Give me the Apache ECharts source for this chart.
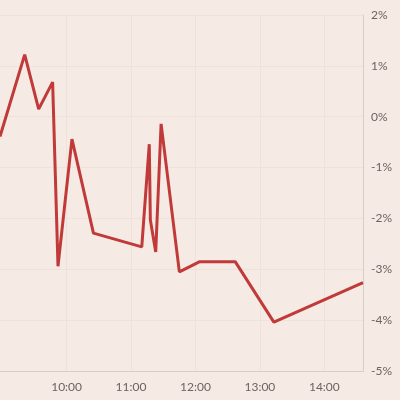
<!DOCTYPE html>
<html>
<head>
<meta charset="utf-8">
<style>
html,body{margin:0;padding:0;background:#f6eae4;}
#c{width:400px;height:400px;}
</style>
<script src="https://cdn.jsdelivr.net/npm/echarts@6/dist/echarts.min.js"></script>
</head>
<body>
<div id="c"></div>
<script>
var times = ["8:58","9:21","9:34","9:47","9:52","10:05","10:25","11:10","11:17","11:18","11:23","11:28","11:45","12:04","12:37","13:13","14:36"];
var values = [-0.39,1.22,0.15,0.68,-2.94,-0.44,-2.29,-2.56,-0.54,-2.03,-2.66,-0.14,-3.05,-2.85,-2.85,-4.04,-3.26];
var xTickLabels = ["10:00","11:00","12:00","13:00","14:00"];

function toMin(s){var p=s.split(":");return (+p[0])*60+(+p[1]);}
var xs = times.map(toMin);
var tickVals = xTickLabels.map(toMin);
var data = xs.map(function(x,i){return [x, values[i]];});

var chart = echarts.init(document.getElementById('c'));
chart.setOption({
  backgroundColor:'#f6eae4',
  animation:false,
  grid:{left:0,right:37,top:15,bottom:29,containLabel:false},
  xAxis:{
    type:'value',
    min:xs[0], max:xs[xs.length-1],
    axisLine:{show:true,onZero:false,lineStyle:{color:'#d8cec7',width:1}},
    axisTick:{show:false,customValues:tickVals},
    axisLabel:{customValues:tickVals,color:'#6b6461',fontSize:12,fontFamily:'Lato',margin:10,
      formatter:function(v){var h=Math.floor(v/60),m=v%60;return h+':'+(m<10?'0':'')+m;}},
    splitLine:{show:true,lineStyle:{color:'#efe2d8',width:1}}
  },
  yAxis:{
    type:'value',position:'right',
    min:-5,max:2,interval:1,
    axisLine:{show:true,lineStyle:{color:'#d8cec7',width:1}},
    axisTick:{show:false},
    axisLabel:{color:'#6b6461',fontSize:12,fontFamily:'Lato',margin:8,formatter:'{value}%'},
    splitLine:{show:true,lineStyle:{color:'#efe2d8',width:1}}
  },
  series:[{
    type:'line',data:data,showSymbol:false,symbol:'none',
    lineStyle:{color:'#c13a3a',width:3},
    itemStyle:{color:'#c13a3a'}
  }]
});
</script>
</body>
</html>
